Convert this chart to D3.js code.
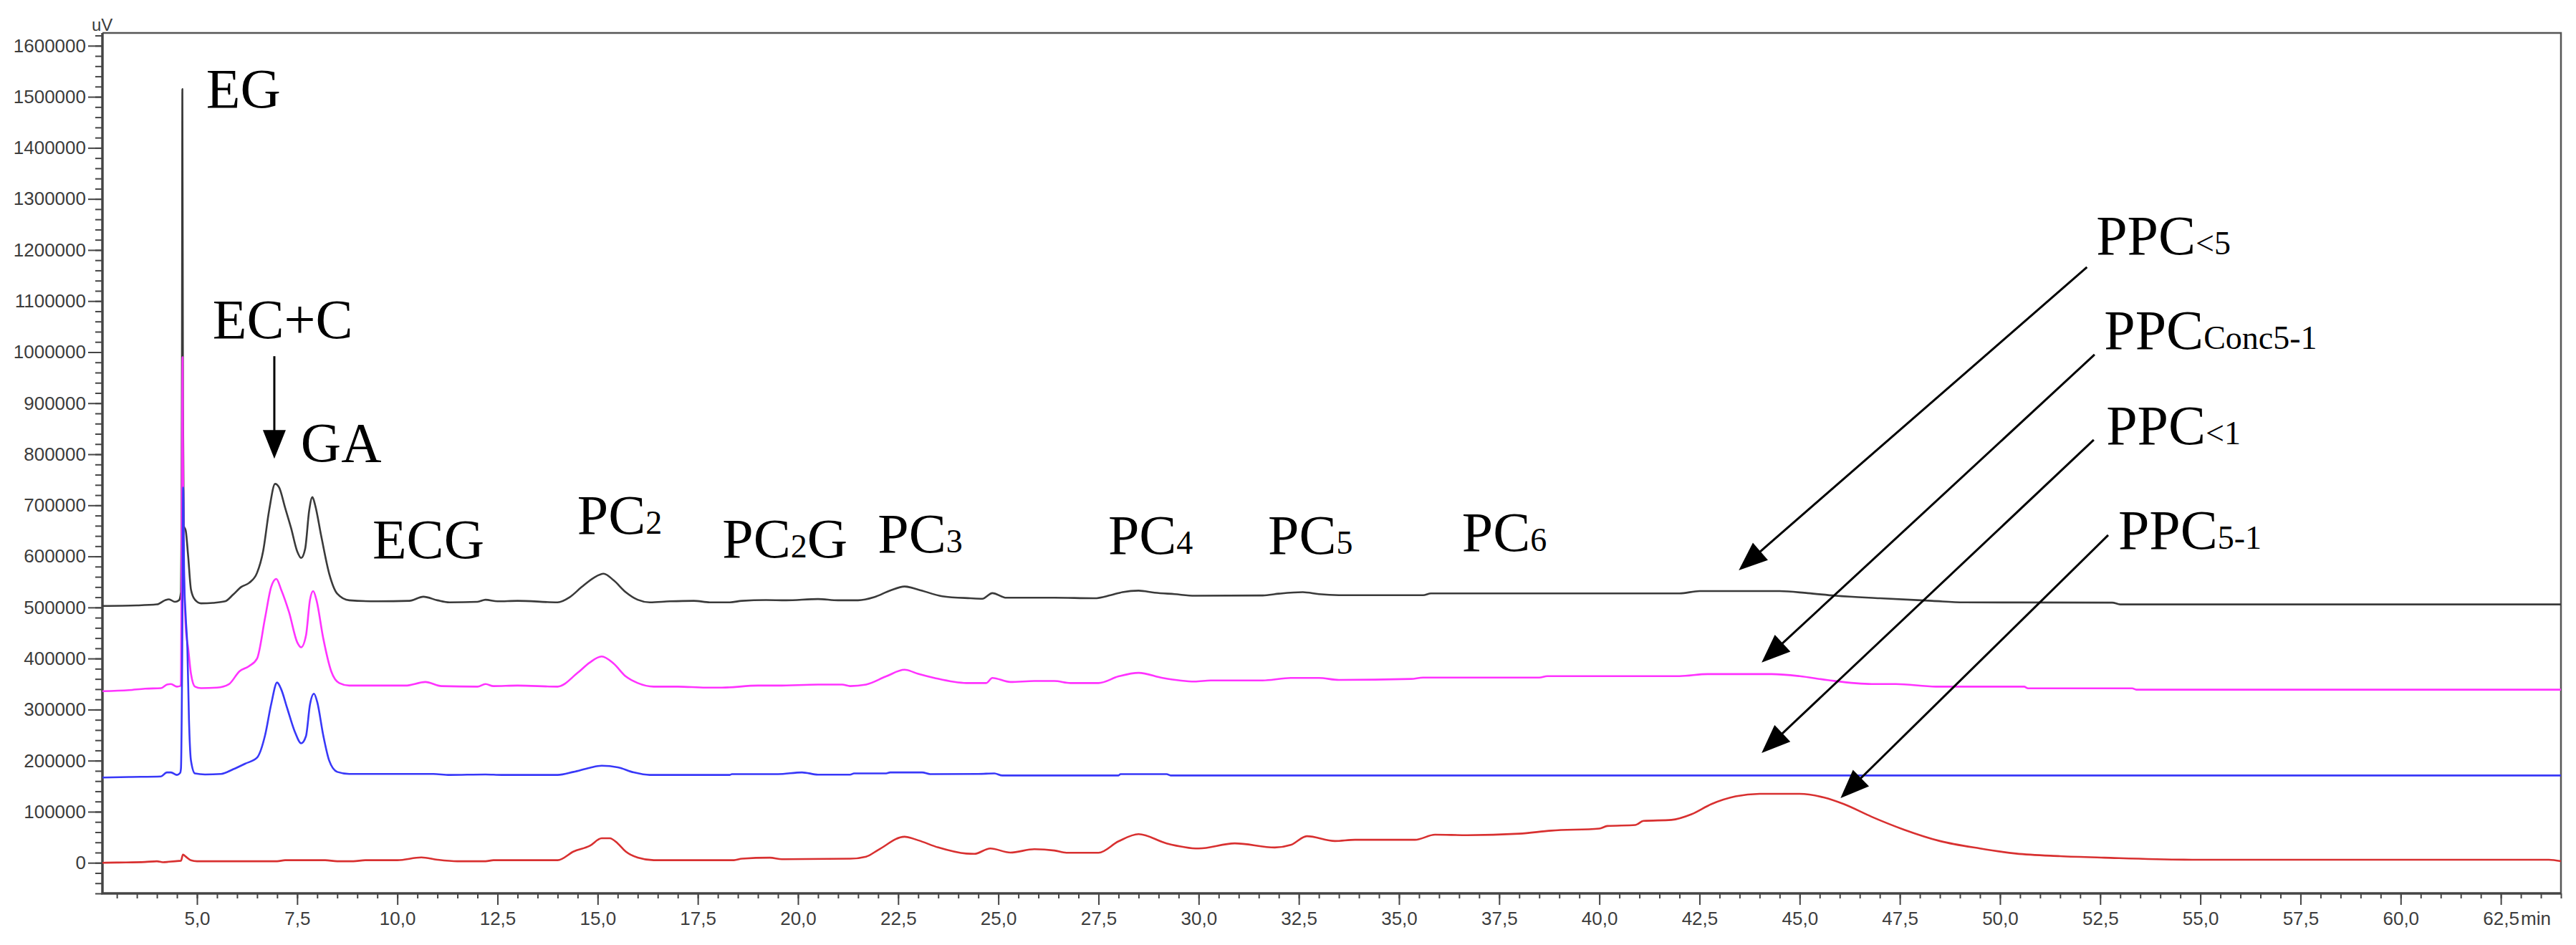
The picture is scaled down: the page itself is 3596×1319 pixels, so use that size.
<!DOCTYPE html>
<html><head><meta charset="utf-8">
<script src="https://cdn.jsdelivr.net/npm/d3@7"></script>
<style>body{margin:0;background:#fff} svg{display:block}</style>
</head><body>
<svg id="chart" width="3596" height="1319"></svg>
<script>
// ---------- DATA (time in min, signal in uV) ----------
const seriesNames = ["PPC<5", "PPCConc5-1", "PPC<1", "PPC5-1"];

const tracePPC5 = [
 [2.64,503000],[3.5,504000],[4.0,506000],[4.2,514000],[4.3,516000],[4.45,511000],[4.55,514000],
 [4.60,530000],[4.615,660000],[4.625,1000000],[4.635,1515000],[4.65,900000],[4.67,660000],[4.72,650000],
 [4.78,600000],[4.85,535000],[4.95,515000],[5.1,508000],[5.4,509000],[5.7,512000],[5.9,525000],
 [6.1,540000],[6.3,548000],[6.5,568000],[6.65,610000],[6.8,690000],[6.95,742000],[7.05,735000],
 [7.2,695000],[7.35,655000],[7.5,610000],[7.6,597000],[7.7,615000],[7.8,690000],[7.88,716000],
 [7.95,700000],[8.1,640000],[8.3,566000],[8.5,527000],[8.8,514000],[9.5,512000],[10.3,513000],
 [10.65,521000],[11.0,514000],[11.3,510000],[12.0,511000],[12.2,515000],[12.5,512000],[13.0,513000],
 [14.0,510000],[14.3,520000],[14.6,540000],[14.9,558000],[15.15,566000],[15.4,553000],[15.7,530000],
 [16.0,515000],[16.3,510000],[16.8,512000],[17.4,513000],[17.8,510000],[18.3,510000],[18.6,513000],
 [19.2,514500],[19.7,514000],[20.5,516500],[21.0,514000],[21.5,514000],[21.9,520000],[22.3,533000],
 [22.66,541000],[23.0,535000],[23.6,522000],[24.3,518000],[24.6,517000],[24.85,528000],[25.2,519000],
 [26.4,519000],[27.4,518000],[27.8,524000],[28.1,530000],[28.5,533000],[28.9,529000],[29.4,526000],
 [29.9,523000],[31.6,523500],[32.0,527000],[32.6,530000],[33.0,526000],[33.5,524000],[35.6,524000],
 [35.8,527500],[37.3,527500],[42.0,527500],[42.5,532000],[44.5,532000],[45.2,528000],[45.9,523000],
 [47.0,518000],[48.3,513000],[49.1,510000],[52.8,509500],[53.0,506000],[64.0,506000]
];

const tracePPCConc = [
 [2.64,336000],[3.3,338000],[3.7,341000],[4.1,342000],[4.25,349000],[4.35,350000],[4.5,345000],
 [4.58,346000],[4.60,350000],[4.62,660000],[4.64,990000],[4.66,640000],[4.72,460000],[4.78,420000],
 [4.85,370000],[4.95,345000],[5.1,342000],[5.5,343000],[5.8,350000],[6.06,375000],[6.3,385000],
 [6.5,400000],[6.7,480000],[6.85,540000],[6.98,556000],[7.1,535000],[7.3,490000],[7.5,432000],
 [7.6,422000],[7.72,445000],[7.82,515000],[7.9,532000],[7.98,515000],[8.15,440000],[8.35,375000],
 [8.55,352000],[8.8,347000],[10.2,347000],[10.7,354000],[11.1,346000],[12.0,345000],[12.2,350000],
 [12.4,346000],[13.0,347000],[14.0,345000],[14.5,372000],[14.8,392000],[15.1,404000],[15.4,390000],
 [15.7,365000],[16.0,352000],[16.4,345000],[17.0,345000],[17.7,343000],[18.1,343000],[19.0,347000],
 [19.5,347000],[20.5,349000],[21.1,349000],[21.3,346000],[21.7,349000],[22.2,365000],[22.66,378000],
 [23.0,370000],[23.4,362000],[24.2,352000],[24.7,352000],[24.85,362000],[25.3,354000],[25.9,356000],
 [26.4,356000],[26.8,352000],[27.5,352000],[28.0,365000],[28.5,372000],[29.1,362000],[29.9,355000],
 [30.3,357000],[31.6,357000],[32.3,362000],[33.0,362000],[33.5,358000],[35.3,360000],[35.6,362700],
 [38.5,362700],[38.7,365500],[42.0,365500],[42.7,369500],[44.3,369500],[45.0,365500],[45.7,357700],
 [46.8,350000],[47.4,350000],[48.4,345000],[50.6,345000],[50.7,341600],[53.3,341600],[53.4,339000],
 [64.0,339000]
];

const tracePPC1 = [
 [2.64,167000],[3.3,168000],[4.1,169000],[4.25,177000],[4.35,177000],[4.5,172000],[4.58,176000],
 [4.60,185000],[4.63,400000],[4.655,735000],[4.68,560000],[4.72,480000],[4.76,420000],[4.8,280000],
 [4.85,200000],[4.95,175000],[5.2,173000],[5.6,174000],[5.9,183000],[6.2,194000],[6.5,206000],
 [6.7,250000],[6.85,310000],[7.0,353000],[7.1,340000],[7.25,303000],[7.45,255000],[7.6,234000],
 [7.72,248000],[7.82,310000],[7.92,331000],[8.0,315000],[8.15,250000],[8.3,200000],[8.5,178000],
 [8.8,174000],[10.9,174000],[11.3,172000],[12.2,173000],[12.6,172000],[14.0,172000],[14.4,178000],
 [14.8,186000],[15.1,190000],[15.5,187000],[15.9,177000],[16.3,172000],[18.3,172000],[18.35,173700],
 [19.5,173700],[20.1,177000],[20.5,172600],[21.3,172600],[21.4,175000],[22.2,175000],[22.3,177000],
 [23.1,177000],[23.3,173700],[24.5,174000],[24.9,175000],[25.1,171000],[28.0,171000],[28.05,173700],
 [29.2,173700],[29.3,171000],[64.0,171000]
];

const tracePPC51 = [
 [2.64,0],[3.0,500],[3.7,1500],[4.0,3000],[4.15,1000],[4.3,2000],[4.45,3000],[4.6,4000],[4.65,16000],
 [4.72,12000],[4.85,5000],[5.0,3000],[7.0,3000],[7.2,5000],[8.2,5000],[8.5,3000],[8.9,3000],[9.2,5000],
 [10.0,5000],[10.6,10500],[11.0,6000],[11.5,3000],[12.2,3000],[12.4,5000],[14.0,5000],[14.4,22000],
 [14.8,33000],[15.1,48000],[15.3,48000],[15.5,38000],[15.7,22000],[16.0,10000],[16.4,5000],[18.4,5000],
 [18.6,8000],[19.3,10000],[19.6,7000],[21.3,8000],[21.7,12000],[22.0,25000],[22.66,51000],[23.0,44000],
 [23.5,30000],[24.2,18000],[24.4,17500],[24.8,28000],[25.3,20000],[25.9,26600],[26.4,24000],[26.7,19600],
 [27.5,19600],[28.0,42000],[28.5,56000],[29.2,38000],[30.0,28000],[30.9,38000],[31.9,30000],[32.3,35000],
 [32.7,52000],[33.4,42600],[33.9,45000],[35.4,45000],[35.9,55000],[36.7,54000],[38.0,57000],[38.8,63000],
 [40.0,67000],[40.2,72000],[40.9,74000],[41.1,82000],[41.8,84000],[42.3,95000],[42.8,115000],
 [43.4,130000],[44.0,135000],[45.0,135000],[45.6,128000],[46.1,115000],[46.8,90000],[47.6,65000],
 [48.5,42600],[49.5,28000],[50.4,18000],[51.5,13000],[52.6,10000],[54.8,6000],[63.7,6000],[64.0,3000]
];

const xMajorTicks = [5,7.5,10,12.5,15,17.5,20,22.5,25,27.5,30,32.5,35,37.5,40,42.5,45,47.5,50,52.5,55,57.5,60,62.5];
const yMajorTicks = [0,100000,200000,300000,400000,500000,600000,700000,800000,900000,1000000,1100000,1200000,1300000,1400000,1500000,1600000];
const xUnit = "min";
const yUnit = "uV";

// peak labels: main text, subscript, trailing text, position in data units
const peakLabels = [
 {t:"EG", s:"", p:"", x:5.23, y:1479000},
 {t:"EC+C", s:"", p:"", x:5.39, y:1027000},
 {t:"GA", s:"", p:"", x:7.59, y:786000},
 {t:"ECG", s:"", p:"", x:9.38, y:596600},
 {t:"PC", s:"2", p:"", x:14.49, y:644300},
 {t:"PC", s:"2", p:"G", x:18.11, y:598000},
 {t:"PC", s:"3", p:"", x:21.99, y:607800},
 {t:"PC", s:"4", p:"", x:27.74, y:605000},
 {t:"PC", s:"5", p:"", x:31.73, y:605000},
 {t:"PC", s:"6", p:"", x:36.57, y:610600},
 {t:"PPC", s:"<5", p:"", x:52.40, y:1191400},
 {t:"PPC", s:"Conc5-1", p:"", x:52.60, y:1006200},
 {t:"PPC", s:"<1", p:"", x:52.65, y:819600},
 {t:"PPC", s:"5-1", p:"", x:52.95, y:614800}
];

// arrows: from (x1,y1) to tip (x2,y2), data units
const arrows = [
 {x1:6.93, y1:992000, x2:6.93, y2:791300},
 {x1:52.17, y1:1166300, x2:43.48, y2:572900},
 {x1:52.36, y1:995200, x2:44.05, y2:392000},
 {x1:52.34, y1:828200, x2:44.05, y2:215000},
 {x1:52.70, y1:641600, x2:46.02, y2:126600}
];

// ---------- DRAW ----------
const svg = d3.select("#chart");
svg.append("rect").attr("width",3596).attr("height",1319).attr("fill","#fff");

const L=143, R=3575, T=46, B=1247;
const x = d3.scaleLinear().domain([2.64, 64.0]).range([L, R]);
const y = d3.scaleLinear().domain([-60000, 1625000]).range([B, T]);

const axisColor = "#454545";
const sans = "'Liberation Sans', Arial, sans-serif";
const serif = "'Liberation Serif', 'Times New Roman', serif";

// minor y ticks
const yMinor = d3.range(-60000, 1625001, 20000);
const gyMinor = svg.append("g").attr("transform",`translate(${L},0)`)
  .call(d3.axisLeft(y).tickValues(yMinor).tickSize(10).tickFormat(""));
gyMinor.select(".domain").remove();
gyMinor.selectAll("line").attr("stroke",axisColor).attr("stroke-width",2);

const gy = svg.append("g").attr("transform",`translate(${L},0)`)
  .call(d3.axisLeft(y).tickValues(yMajorTicks).tickSize(20).tickPadding(3).tickFormat(d3.format("d")));
gy.select(".domain").remove();
gy.selectAll("line").attr("stroke",axisColor).attr("stroke-width",2);
gy.selectAll("text").attr("font-family",sans).attr("font-size",26).attr("fill","#3c3c3c");

// minor x ticks
const xMinor = d3.range(3.0, 64.01, 0.5);
const gxMinor = svg.append("g").attr("transform",`translate(0,${B})`)
  .call(d3.axisBottom(x).tickValues(xMinor).tickSize(7).tickFormat(""));
gxMinor.select(".domain").remove();
gxMinor.selectAll("line").attr("stroke",axisColor).attr("stroke-width",2);

const gx = svg.append("g").attr("transform",`translate(0,${B})`)
  .call(d3.axisBottom(x).tickValues(xMajorTicks).tickSize(16).tickPadding(10)
  .tickFormat(d => d.toFixed(1).replace(".", ",")));
gx.select(".domain").remove();
gx.selectAll("line").attr("stroke",axisColor).attr("stroke-width",2);
gx.selectAll("text").attr("font-family",sans).attr("font-size",26).attr("fill","#3c3c3c");

// unit labels
svg.append("text").attr("x", x(62.5)+28).attr("y", B+44).text(xUnit)
  .attr("font-family",sans).attr("font-size",26).attr("fill","#3c3c3c");
svg.append("text").attr("x", L-15).attr("y", T-3).text(yUnit)
  .attr("font-family",sans).attr("font-size",24).attr("fill","#3c3c3c");

// frame
svg.append("path").attr("d",`M${L},${T}H${R}V${B}`).attr("fill","none")
  .attr("stroke","#555").attr("stroke-width",2.5);
svg.append("path").attr("d",`M${L},${T}V${B}H${R}`).attr("fill","none")
  .attr("stroke",axisColor).attr("stroke-width",3.5);

// traces
const line = d3.line().x(d=>x(d[0])).y(d=>y(d[1])).curve(d3.curveMonotoneX);
const traces = [
 {data:tracePPC5, color:"#3a3a3a"},
 {data:tracePPCConc, color:"#ff33ff"},
 {data:tracePPC1, color:"#3838f8"},
 {data:tracePPC51, color:"#d83030"}
];
svg.append("g").selectAll("path").data(traces).join("path")
  .attr("d", d=>line(d.data)).attr("fill","none")
  .attr("stroke", d=>d.color).attr("stroke-width",2.6)
  .attr("stroke-linejoin","round");

// labels
const lab = svg.append("g").selectAll("text").data(peakLabels).join("text")
  .attr("x", d=>x(d.x)).attr("y", d=>y(d.y))
  .attr("font-family",serif).attr("font-size",78).attr("fill","#000");
lab.append("tspan").text(d=>d.t);
lab.filter(d=>d.s).append("tspan").attr("font-size",46).text(d=>d.s);
lab.filter(d=>d.p).append("tspan").text(d=>d.p);

// arrows
const ag = svg.append("g");
arrows.forEach(a => {
  const X1=x(a.x1), Y1=y(a.y1), X2=x(a.x2), Y2=y(a.y2);
  const dx=X2-X1, dy=Y2-Y1, len=Math.hypot(dx,dy), ux=dx/len, uy=dy/len;
  const hl = 40, hw = 16;
  const bx = X2-ux*hl, by = Y2-uy*hl;
  ag.append("line").attr("x1",X1).attr("y1",Y1).attr("x2",bx+ux*4).attr("y2",by+uy*4)
    .attr("stroke","#000").attr("stroke-width",3);
  ag.append("polygon").attr("points",
    `${X2},${Y2} ${bx-uy*hw},${by+ux*hw} ${bx+uy*hw},${by-ux*hw}`).attr("fill","#000");
});
</script>
</body></html>
